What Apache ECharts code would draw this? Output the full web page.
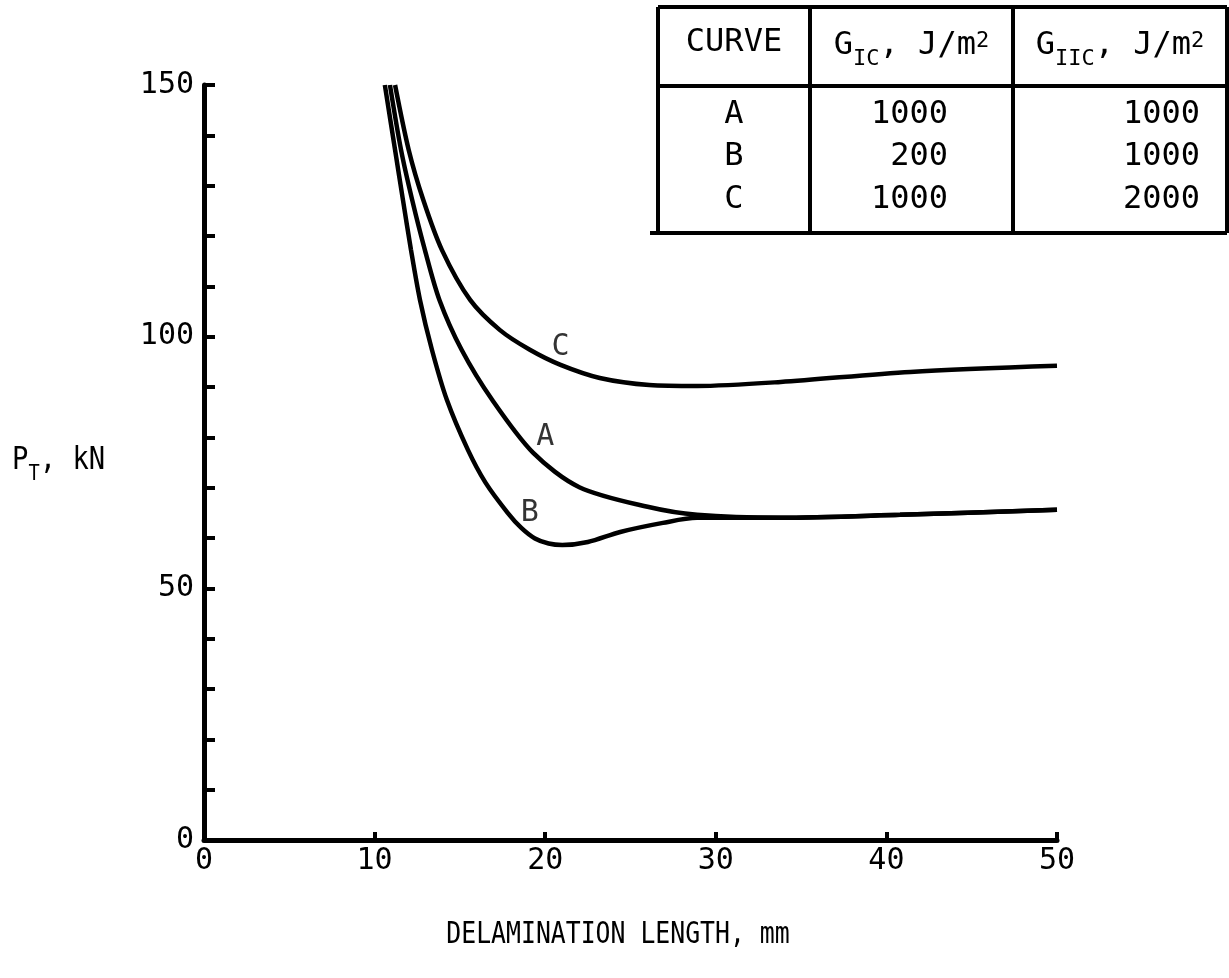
<!DOCTYPE html>
<html>
<head>
<meta charset="utf-8">
<script src="https://cdn.jsdelivr.net/npm/echarts@6/dist/echarts.min.js"></script>
<style>
  html, body { margin: 0; background: #fff; }
  #chart { width: 1229px; height: 978px; }
</style>
</head>
<body>
<div id="chart"></div>
<script>
// delamination length (mm) vs P_T (kN)
const curveA = [
  [10.9, 150], [11.55, 137.1], [12.2, 127.2], [12.95, 117.2], [13.8, 107.3],
  [15.1, 97.4], [16.9, 87.4], [19.3, 76.9], [22.0, 70.1], [26.0, 66.2],
  [28.9, 64.6], [33.8, 64.0], [40.8, 64.6], [50, 65.6]
];
const curveB = [
  [10.6, 150], [11.2, 137.1], [11.66, 127.2], [12.13, 117.3], [12.66, 107.3],
  [13.36, 97.4], [14.24, 87.4], [15.47, 77.5], [16.5, 71.0], [17.8, 65.0],
  [18.6, 62.0], [19.4, 59.9], [20.2, 58.9], [21.0, 58.6], [22.5, 59.2],
  [24.4, 61.2], [26.9, 63.0], [28.9, 64.0], [33.8, 64.0], [40.8, 64.6], [50, 65.6]
];
const curveC = [
  [11.2, 150], [12.0, 137.1], [12.85, 127.2], [13.95, 117.2], [15.6, 107.3],
  [17.35, 101.3], [19.1, 97.4], [20.9, 94.4], [23.2, 91.8], [26.1, 90.4],
  [28.9, 90.2], [33.8, 91.0], [41.4, 93.0], [50, 94.2]
];

// curve tags
const labelNames = ['A', 'B', 'C'];
const labelX = [20.0, 19.1, 20.9];
const labelY = [80.1, 65.0, 98.0];

// legend table
const tableHead = ['CURVE', '{n|G}{sub|IC}{n|, J/m}{sup|2}', '{n|G}{sub|IIC}{n|, J/m}{sup|2}'];
const tableCurve = ['A', 'B', 'C'];
const tableGIc = [1000, 200, 1000];
const tableGIIc = [1000, 1000, 2000];

const FONT = '"DejaVu Sans Mono", monospace';
const rich = {
  n: { fontSize: 32, lineHeight: 32, verticalAlign: 'top', fontFamily: FONT, color: '#000' },
  sub: { fontSize: 22, lineHeight: 22, padding: [18, 0, 0, 0], verticalAlign: 'top', fontFamily: FONT, color: '#000' },
  sup: { fontSize: 22, lineHeight: 22, verticalAlign: 'top', fontFamily: FONT, color: '#000' }
};

const chart = echarts.init(document.getElementById('chart'));

// table graphics
const tL = 658, tR = 1227, tT = 7, tB = 233, tH = 86, c1 = 810, c2 = 1013;
const rowY = [115, 157, 200];
const lineStyle = { stroke: '#000', lineWidth: 4 };
const seg = (x1, y1, x2, y2) => ({ type: 'line', shape: { x1, y1, x2, y2 }, style: lineStyle, silent: true });
const txt = (x, y, text, align, sx) => ({
  type: 'text', x, y, scaleX: sx || 1, silent: true,
  style: { text, rich, font: '32px ' + FONT, fill: '#000', align: align || 'center', verticalAlign: 'middle' }
});

const graphics = [
  seg(tL, tT, tR, tT), seg(650, tB, tR, tB), seg(tL, tT, tL, tB), seg(tR, tT, tR, tB),
  seg(c1, tT, c1, tB), seg(c2, tT, c2, tB), seg(tL, tH, tR, tH),
  txt((tL + c1) / 2, 43, '{n|' + tableHead[0] + '}'),
  txt((c1 + c2) / 2, 46, tableHead[1]),
  txt((c2 + tR) / 2, 46, tableHead[2])
];
tableCurve.forEach((c, i) => {
  graphics.push(txt((tL + c1) / 2, rowY[i], '{n|' + c + '}'));
  graphics.push(txt(948, rowY[i], '{n|' + tableGIc[i] + '}', 'right'));
  graphics.push(txt(1200, rowY[i], '{n|' + tableGIIc[i] + '}', 'right'));
});
// axis titles
graphics.push(txt(12, 461, '{n|P}{sub|T}{n|, kN}', 'left', 0.85));
graphics.push({
  type: 'text', x: 618, y: 935, scaleX: 0.8, silent: true,
  style: { text: 'DELAMINATION LENGTH, mm', font: '31px ' + FONT, fill: '#000', align: 'center', verticalAlign: 'middle' }
});

const curveLine = data => ({
  type: 'line', data, smooth: 0.3, showSymbol: false, symbol: 'none',
  lineStyle: { color: '#000', width: 4.5 }, silent: true
});

chart.setOption({
  animation: false,
  backgroundColor: '#fff',
  grid: { left: 204, right: 172, top: 85, bottom: 138 },
  xAxis: {
    type: 'value', min: 0, max: 50, interval: 10,
    axisLine: { lineStyle: { color: '#000', width: 5 } },
    axisTick: { inside: true, length: 8, lineStyle: { color: '#000', width: 4 } },
    axisLabel: { color: '#000', fontFamily: FONT, fontSize: 30, margin: 6 },
    splitLine: { show: false }
  },
  yAxis: {
    type: 'value', min: 0, max: 150, interval: 10,
    axisLine: { lineStyle: { color: '#000', width: 5 } },
    axisTick: { inside: true, length: 11, lineStyle: { color: '#000', width: 4 } },
    axisLabel: {
      color: '#000', fontFamily: FONT, fontSize: 30, margin: 10,
      formatter: v => (v % 50 === 0 ? String(v) : '')
    },
    splitLine: { show: false }
  },
  series: [
    curveLine(curveA),
    curveLine(curveB),
    curveLine(curveC),
    {
      type: 'scatter', symbolSize: 1, silent: true,
      itemStyle: { color: 'rgba(0,0,0,0)' },
      label: { show: true, position: 'inside', formatter: p => p.name, color: '#000', fontFamily: FONT, fontSize: 30 },
      data: labelNames.map((n, i) => ({ name: n, value: [labelX[i], labelY[i]] }))
    }
  ],
  graphic: graphics
});
</script>
</body>
</html>
